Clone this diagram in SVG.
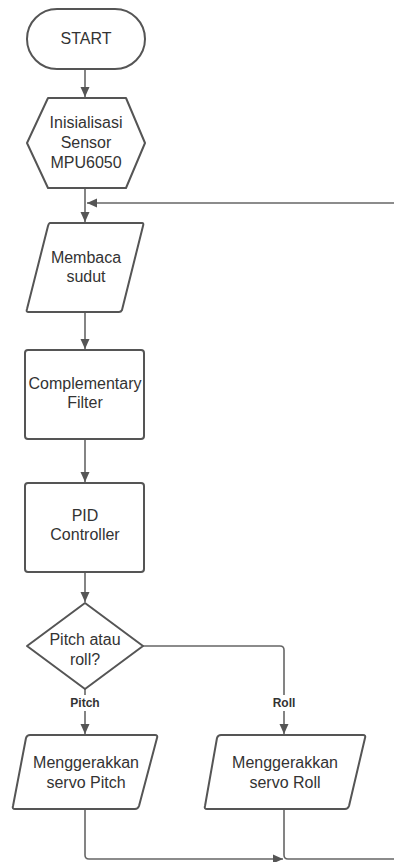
<svg xmlns="http://www.w3.org/2000/svg" width="394" height="862" viewBox="0 0 394 862">
<defs>
<style>
.shape{fill:#fff;stroke:#555;stroke-width:2;stroke-linejoin:round}
.conn{fill:none;stroke:#666;stroke-width:1.6}
.t{font-family:"Liberation Sans",Arial,sans-serif;font-size:16px;fill:#333;text-anchor:middle;dominant-baseline:central}
.lbl{font-family:"Liberation Sans",Arial,sans-serif;font-size:12px;font-weight:bold;fill:#333;text-anchor:middle;dominant-baseline:central}
</style>
<marker id="ah" viewBox="0 0 10 10" refX="10" refY="5" markerWidth="10" markerHeight="10" markerUnits="userSpaceOnUse" orient="auto">
<path d="M0 0.5 L10 5 L0 9.5 Z" fill="#555"/>
</marker>
</defs>
<rect width="394" height="862" fill="#fff"/>
<g id="connectors">
<path class="conn" d="M85 69 V97" marker-end="url(#ah)"/>
<path class="conn" d="M85 188 V222" marker-end="url(#ah)"/>
<path class="conn" d="M394 203 H87" marker-end="url(#ah)"/>
<path class="conn" d="M85 312 V349" marker-end="url(#ah)"/>
<path class="conn" d="M85 439 V482" marker-end="url(#ah)"/>
<path class="conn" d="M85 572 V602" marker-end="url(#ah)"/>
<path class="conn" d="M85 689 V734" marker-end="url(#ah)"/>
<path class="conn" d="M143 646 H280 Q284 646 284 650 V734" marker-end="url(#ah)"/>
<path class="conn" d="M85 809 V855 Q85 859 89 859 H283" marker-end="url(#ah)"/>
<path class="conn" d="M284 809 V855 Q284 859 288 859 H394"/>
<rect x="64" y="695" width="42" height="16" fill="#fff"/>
<text class="lbl" x="85" y="703">Pitch</text>
<rect x="268" y="695" width="32" height="16" fill="#fff"/>
<text class="lbl" x="284" y="703">Roll</text>
</g>
<g id="start">
<rect class="shape" x="27" y="9" width="118" height="60" rx="30" ry="30"/>
<text class="t" x="86" y="38">START</text>
</g>
<g id="init">
<path class="shape" d="M48 98 H126 L145 143 L126 188 H48 L27 143 Z"/>
<text class="t" x="86" y="122">Inisialisasi</text>
<text class="t" x="86" y="142">Sensor</text>
<text class="t" x="86" y="162">MPU6050</text>
</g>
<g id="membaca">
<path class="shape" d="M50 223 H142 Q144 223 143 226 L122 310 Q121 312 119 312 H28 Q26 312 27 309 L48 226 Q49 223 50 223 Z"/>
<text class="t" x="86" y="257">Membaca</text>
<text class="t" x="86" y="276">sudut</text>
</g>
<g id="filter">
<rect class="shape" x="25" y="350" width="119" height="89" rx="3"/>
<text class="t" x="85" y="383">Complementary</text>
<text class="t" x="85" y="402">Filter</text>
</g>
<g id="pid">
<rect class="shape" x="25" y="483" width="119" height="89" rx="3"/>
<text class="t" x="85" y="515">PID</text>
<text class="t" x="85" y="534">Controller</text>
</g>
<g id="decision">
<path class="shape" d="M85 603 L143 646 L85 689 L27 646 Z"/>
<text class="t" x="85" y="639">Pitch atau</text>
<text class="t" x="85" y="659">roll?</text>
</g>
<g id="servo-pitch">
<path class="shape" d="M30 735 H155 Q158 735 157 738 L139 806 Q138 809 135 809 H15 Q12 809 13 806 L26 738 Q27 735 30 735 Z"/>
<text class="t" x="86" y="762">Menggerakkan</text>
<text class="t" x="86" y="782">servo Pitch</text>
</g>
<g id="servo-roll">
<path class="shape" d="M221 735 H363 Q366 735 365 738 L349 806 Q348 809 345 809 H207 Q204 809 205 806 L217 738 Q218 735 221 735 Z"/>
<text class="t" x="285" y="762">Menggerakkan</text>
<text class="t" x="285" y="782">servo Roll</text>
</g>
</svg>
